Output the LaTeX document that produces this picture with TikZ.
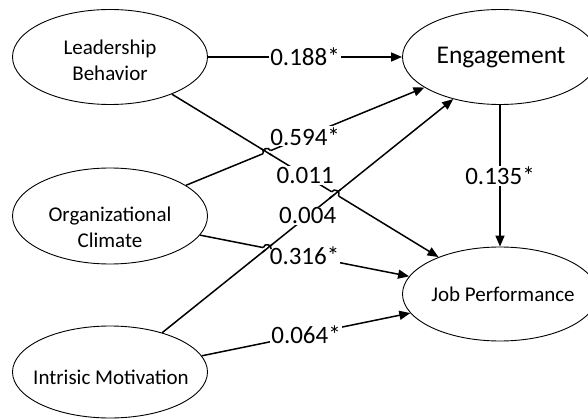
\documentclass[tikz,border=0pt]{standalone}
\usepackage{fontspec}
\setmainfont{Carlito}
\usetikzlibrary{shapes.geometric,arrows.meta,calc,intersections}
\tikzset{
 ell/.style={ellipse, draw, line width=0.9pt, minimum width=195pt, minimum height=95pt, inner sep=0pt},
 txt/.style={align=center, font=\fontsize{21}{26}\selectfont},
 bigtxt/.style={font=\fontsize{25.5}{28}\selectfont},
 ln/.style={line width=1.5pt},
 arr/.style={ln, -{Triangle[length=11pt,width=9pt]}},
 lbl/.style={fill=white, inner sep=1pt, font=\fontsize{25}{25}\selectfont},
}
\newcommand\hopover[5]{%
 \draw[white, line width=3.5pt] ($(#1)!4pt!(#2)$) -- ($(#1)!4pt!(#3)$);
 \draw[ln] ($(#1)!7pt!(#4)$) -- ($(#1)!7pt!(#5)$);
 \draw[ln] ($(#1)!4pt!(#2)$) .. controls ($(#1)!4pt!(#2)!5pt!90:(#1)$) and ($(#1)!4pt!(#3)!5pt!-90:(#1)$) .. ($(#1)!4pt!(#3)$);
}
\begin{document}
\begin{tikzpicture}[x=1pt,y=-1pt]
\path[use as bounding box] (0,0) rectangle (588,419);
\clip (0,0) rectangle (588,419);
\node[ell] (lb) at (110,57) {};
\node[txt] (lbt) at (110,60) {Leadership\\Behavior};
\node[ell, minimum height=96pt] (oc) at (110,216) {};
\node[txt] (oct) at (110,227) {Organizational\\Climate};
\node[ell, minimum height=92pt] (im) at (110,372) {};
\node[txt] (imt) at (111,377) {Intrisic Motivation};
\node[ell] (eng) at (500,57) {};
\node[bigtxt] (engt) at (501,58) {Engagement};
\node[ell, minimum height=94pt] (jp) at (500,294) {};
\node[txt] (jpt) at (503,294) {Job Performance};

\draw[arr] (lb.east) -- node[lbl]{0.188*} (eng.west);
\draw[arr, name path=oe] (oc.22) -- node[lbl]{0.594*} (eng.202);
\draw[arr, name path=lj] (lb.-31) -- node[lbl]{0.011} (jp.149);
\draw[arr, name path=ie] (im.37) -- node[lbl]{0.004} (eng.222);
\draw[arr, name path=oj] (oc.-12) -- node[lbl]{0.316*} (jp.169);
\draw[arr] (im.10) -- node[lbl]{0.064*} (jp.192);
\draw[arr] (eng.south) -- node[lbl]{0.135*} (jp.north);

\path[name intersections={of=oe and lj, by=h1}];
\path[name intersections={of=lj and ie, by=h2}];
\path[name intersections={of=oj and ie, by=h3}];
\hopover{h1}{oc.22}{eng.202}{lb.-31}{jp.149}
\hopover{h2}{lb.-31}{jp.149}{im.37}{eng.222}
\hopover{h3}{oc.-12}{jp.169}{im.37}{eng.222}
\end{tikzpicture}
\end{document}
